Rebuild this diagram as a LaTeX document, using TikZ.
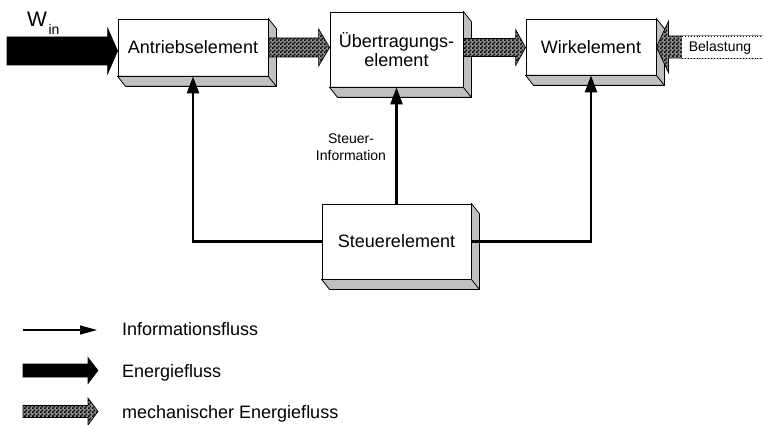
\documentclass[tikz,border=0pt]{standalone}
\usepackage{fontspec}
\setmainfont{Liberation Sans}
\usetikzlibrary{calc,arrows.meta,patterns}

\definecolor{facegray}{HTML}{C0C0C0}

% fine black/white checker used for mechanical energy flow
\pgfdeclarepatternformonly{finechecker}{\pgfpointorigin}{\pgfqpoint{4pt}{4pt}}{\pgfqpoint{4pt}{4pt}}{%
  \pgfpathrectangle{\pgfpointorigin}{\pgfqpoint{2pt}{2pt}}%
  \pgfpathrectangle{\pgfqpoint{2pt}{2pt}}{\pgfqpoint{2pt}{2pt}}%
  \pgfusepath{fill}}

% horizontal block arrow: style, tail, tip, shaft half height, head half height, head length (signed)
\newcommand\blockarrow[6]{%
  \path[#1] let \p1=(#2), \p2=(#3) in
    (\x1,\y1+#4) -- (\x2-#6,\y1+#4) -- (\x2-#6,\y1+#5) -- (\x2,\y1)
    -- (\x2-#6,\y1-#5) -- (\x2-#6,\y1-#4) -- (\x1,\y1-#4) -- cycle;}

% bevelled side and bottom faces of a block
\newcommand\extrude[1]{%
  \draw[face] (#1.north east) -- ++(8,10) -- ($(#1.south east)+(8,10)$)
    -- ($(#1.south west)+(8,10)$) -- (#1.south west) -- (#1.south east) -- cycle;
  \draw[face] (#1.south east) -- ++(8,10);}

\tikzset{
  box/.style={draw, fill=white, line width=0.8pt, inner sep=0pt, align=center,
    font=\fontsize{18}{19.5}\selectfont},
  face/.style={draw, fill=facegray, line width=0.8pt, line join=miter},
  info/.style={line width=2.4pt, -{Triangle[length=17pt,width=12pt]}},
  infolegend/.style={line width=1.4pt, -{Triangle[length=17pt,width=9pt]}},
  energy/.style={draw, fill=black, line width=0.6pt},
  mech/.style={draw, line width=0.7pt, preaction={fill=black!45}, pattern=finechecker,
    pattern color=black},
  legend/.style={inner sep=0pt, font=\fontsize{18}{18}\selectfont},
}

\begin{document}
\begin{tikzpicture}[x=1pt, y=-1pt]
\clip (0,0) rectangle (763,425);

% blocks
\node[box, minimum width=150pt, minimum height=57pt] (ant)  at (193,47.5) {Antriebselement};
\node[box, minimum width=133pt, minimum height=75pt] (ueb)  at (396.5,49.5) {Übertragungs-\\element};
\node[box, minimum width=130pt, minimum height=56pt] (wirk) at (591,47) {Wirkelement};
\node[box, minimum width=149pt, minimum height=75pt] (steu) at (396.5,241.5) {Steuerelement};
\extrude{ant}
\extrude{ueb}
\extrude{wirk}
\extrude{steu}

% energy input
\coordinate (wintail) at (7,51);
\blockarrow{energy}{wintail}{ant.west |- wintail}{14pt}{23pt}{10pt}
\node[anchor=base west, inner sep=0pt, font=\fontsize{21}{21}\selectfont] (winlabel) at (27,27)
  {W\kern1.5pt\raisebox{-8pt}{\fontsize{14}{14}\selectfont in}};

% mechanical energy flow between blocks
\blockarrow{mech}{ant.east}{ueb.west |- ant.east}{9.5pt}{18.5pt}{11pt}
\blockarrow{mech}{ueb.east |- ant.east}{wirk.west |- ant.east}{9pt}{18pt}{10pt}

% load acting on the output element
\coordinate (loadtail) at (775,47);
\blockarrow{mech}{loadtail}{wirk.east |- loadtail}{11pt}{25.5pt}{-12pt}
\fill[white] (682,36) rectangle (775,58);
\draw[dotted, line width=0.9pt] (682,36) -- (775,36) (682,58) -- (775,58);
\node[anchor=base, inner sep=0pt, font=\fontsize{14}{14}\selectfont] (load) at (720,51.5) {Belastung};

% control information
\draw[info] (steu.west) -| (ant.south);
\draw[info] (steu.north) -- (ueb.south);
\draw[info] (steu.east) -| (wirk.south);
\node[align=center, inner sep=0pt, font=\fontsize{14}{17}\selectfont] (steuinfo) at (351,147.5)
  {Steuer-\\Information};

% legend
\coordinate (li1) at (23,330);
\coordinate (li2) at (97,330);
\draw[infolegend] (li1) -- (li2);
\node[legend, anchor=base west] (lInfo) at (122,335) {Informationsfluss};

\coordinate (le1) at (23,370.5);
\coordinate (le2) at (98,370.5);
\blockarrow{energy}{le1}{le2}{6.5pt}{13pt}{10pt}
\node[legend, anchor=base west] (lEnergy) at (122,377) {Energiefluss};

\coordinate (lm1) at (23,411.5);
\coordinate (lm2) at (98,411.5);
\blockarrow{mech}{lm1}{lm2}{6pt}{13.5pt}{10pt}
\node[legend, anchor=base west] (lMech) at (122,418) {mechanischer Energiefluss};
\end{tikzpicture}
\end{document}
